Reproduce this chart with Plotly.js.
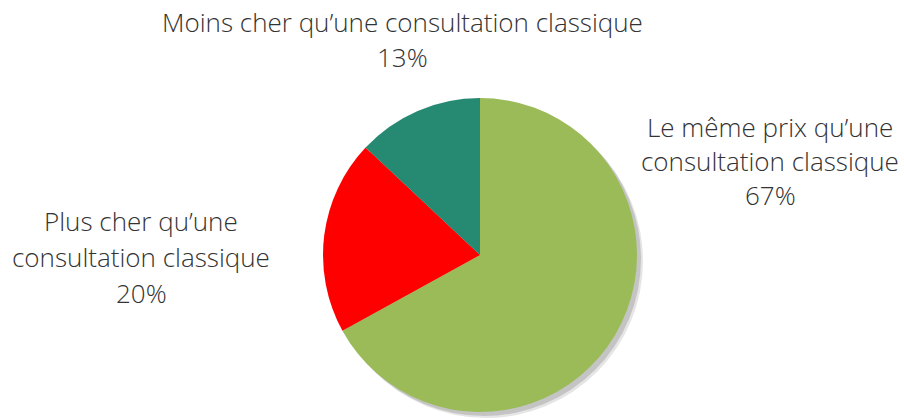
<!DOCTYPE html>
<html>
<head>
<meta charset="utf-8">
<script src="https://cdn.plot.ly/plotly-3.0.1.min.js"></script>
<style>
  body { margin: 0; background: #fff; }
  #chart { width: 904px; height: 420px; }
</style>
</head>
<body>
<div id="chart"></div>
<script>
var labels = ['Le même prix qu’une<br>consultation classique', 'Plus cher qu’une<br>consultation classique', 'Moins cher qu’une consultation classique'];
var values = [67, 20, 13];
var colors = ['#9BBB59', '#FF0000', '#268A73'];

var W = 904, H = 420;
var cx = 480, cy = 255, r = 157;

// label centres (px) for each slice, one entry per slice
var labelPos = [
  {x: 770, y: [127, 161, 195]},
  {x: 141, y: [221, 257, 293]},
  {x: 402, y: [22, 57]}
];

var annotations = [];
labels.forEach(function (lab, i) {
  var lines = lab.split('<br>').concat([values[i] + '%']);
  lines.forEach(function (t, j) {
    annotations.push({
      text: t,
      xref: 'paper', yref: 'paper',
      x: labelPos[i].x / W,
      y: 1 - labelPos[i].y[j] / H,
      xanchor: 'center', yanchor: 'middle',
      showarrow: false,
      font: {family: '"Open Sans", sans-serif', size: 26, weight: 300, color: '#333333'}
    });
  });
});

// soft shadow behind the pie
var shapes = [];
[[6, 'rgba(0,0,0,0.10)'], [4, 'rgba(0,0,0,0.14)']].forEach(function (s) {
  var o = s[0];
  shapes.push({
    type: 'circle', layer: 'below', xref: 'paper', yref: 'paper',
    x0: (cx + o - r) / W, x1: (cx + o + r) / W,
    y0: 1 - (cy + o + r) / H, y1: 1 - (cy + o - r) / H,
    fillcolor: s[1], line: {width: 0}
  });
});

var data = [{
  type: 'pie',
  labels: labels,
  values: values,
  sort: false,
  direction: 'clockwise',
  rotation: 0,
  textinfo: 'none',
  hoverinfo: 'label+percent',
  marker: {colors: colors, line: {width: 0}},
  domain: {x: [(cx - r) / W, (cx + r) / W], y: [1 - (cy + r) / H, 1 - (cy - r) / H]}
}];

var layout = {
  width: W, height: H,
  margin: {l: 0, r: 0, t: 0, b: 0},
  showlegend: false,
  paper_bgcolor: '#ffffff',
  annotations: annotations,
  shapes: shapes
};

Plotly.newPlot('chart', data, layout, {displayModeBar: false, staticPlot: true});
</script>
</body>
</html>
